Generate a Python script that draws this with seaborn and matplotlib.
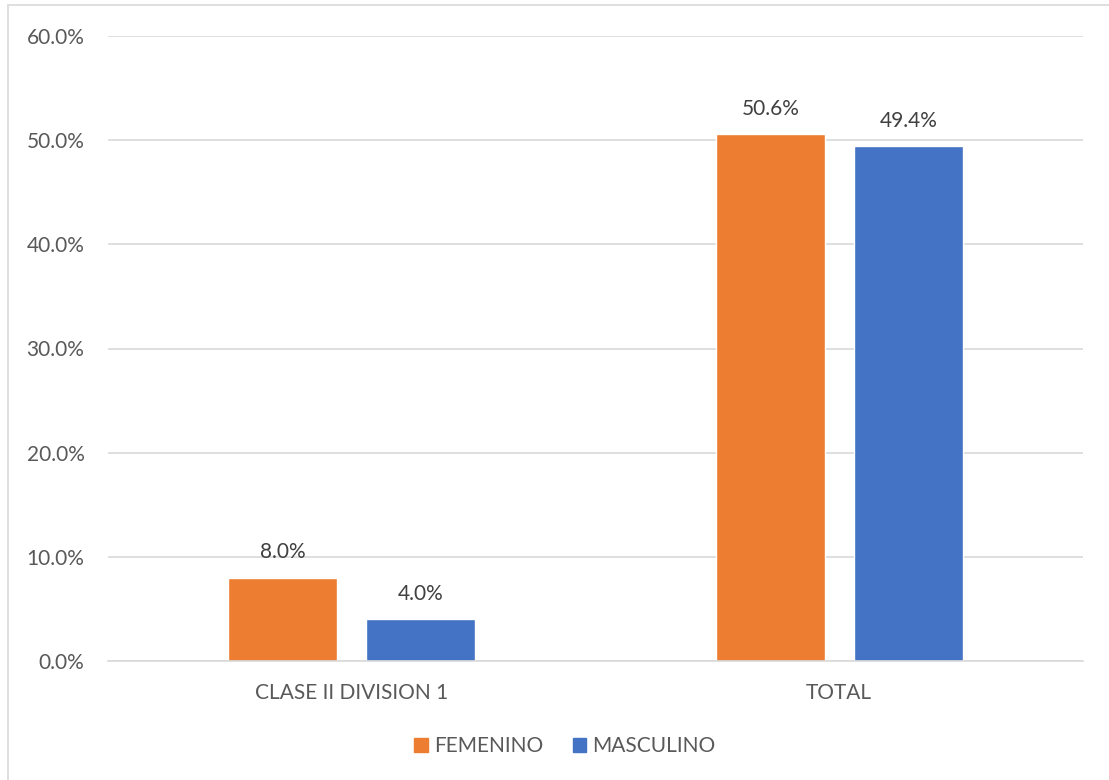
import pandas as pd
import numpy as np
import matplotlib.pyplot as plt
import matplotlib.patches as mpatches
from matplotlib.ticker import FuncFormatter
import seaborn as sns

# data
categories = ['CLASE II DIVISION 1', 'TOTAL']
femenino = [8.0, 50.6]
masculino = [4.0, 49.4]
series_names = ['FEMENINO', 'MASCULINO']
colors = ['#ED7D31', '#4472C4']

df = pd.DataFrame({
    'Categoria': categories * 2,
    'Serie': [series_names[0]] * 2 + [series_names[1]] * 2,
    'Valor': femenino + masculino,
})

sns.set_style('white')
plt.rcParams['font.family'] = ['Lato', 'DejaVu Sans']
text_color = '#595959'

fig = plt.figure(figsize=(11.09, 7.80), dpi=100)
ax = fig.add_axes([108 / 1109, 1 - 661 / 780, (1083 - 108) / 1109, (661 - 36) / 780])

sns.barplot(data=df, x='Categoria', y='Valor', hue='Serie', palette=colors,
            width=0.566, gap=0.21, ax=ax, legend=False, saturation=1)

ax.set_ylim(0, 60)
ax.set_yticks(np.arange(0, 61, 10))
ax.yaxis.set_major_formatter(FuncFormatter(lambda v, p: f'{v:.1f}%'))
ax.grid(axis='y', color='#d9d9d9', linewidth=1.2)
ax.set_axisbelow(True)
for s in ['top', 'right', 'left']:
    ax.spines[s].set_visible(False)
ax.spines['bottom'].set_color('#d9d9d9')
ax.spines['bottom'].set_linewidth(1.2)
ax.tick_params(axis='both', length=0, labelsize=15, colors=text_color)
ax.tick_params(axis='y', pad=17)
ax.tick_params(axis='x', pad=16)
ax.set_xlabel('')
ax.set_ylabel('')

for container in ax.containers:
    ax.bar_label(container, labels=[f'{b.get_height():.1f}%' for b in container],
                 padding=11, fontsize=15, color='#404040')

handles = [mpatches.Patch(color=c, label=n) for c, n in zip(colors, series_names)]
fig.legend(handles=handles, loc='center', bbox_to_anchor=(565 / 1109, 1 - 746 / 780),
           ncol=2, frameon=False, fontsize=15, handlelength=0.65, handleheight=0.65,
           handletextpad=0.3, columnspacing=1.4, labelcolor=text_color)

# outer chart border
fig.patches.append(mpatches.Rectangle((8 / 1109, -0.1), 1.2, 1 - 5 / 780 + 0.1,
                                      transform=fig.transFigure, fill=False,
                                      edgecolor='#d9d9d9', linewidth=1.2))

fig.savefig('out.png', dpi=100)
